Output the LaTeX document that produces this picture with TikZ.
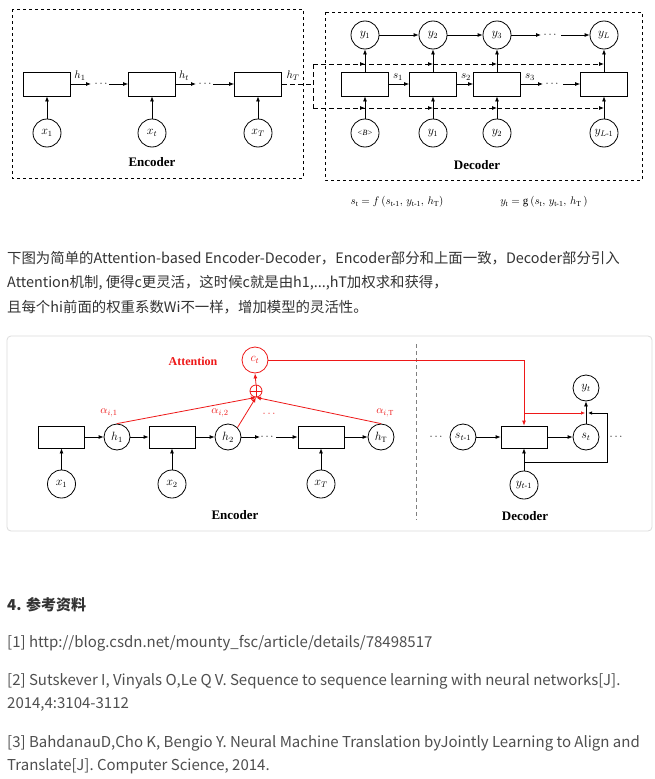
\documentclass[tikz,border=0pt]{standalone}
\usepackage{amsmath}
\usepackage{fontspec}
\setmainfont{Liberation Serif}
\newfontfamily\cjk{Noto Sans CJK SC}
\usetikzlibrary{arrows.meta}
\definecolor{attn}{RGB}{238,24,24}
\definecolor{txt}{RGB}{51,51,51}
\definecolor{reftxt}{RGB}{79,79,79}
\definecolor{framec}{RGB}{220,220,220}
\begin{document}
\begin{tikzpicture}[x=1pt,y=-1pt,
  blk/.style={draw,line width=0.8pt,minimum width=47,minimum height=24,inner sep=0},
  blks/.style={draw,line width=0.8pt,minimum width=46,minimum height=22,inner sep=0},
  crc/.style={draw,circle,line width=0.8pt,minimum size=28,inner sep=0,font=\fontsize{12}{14}\selectfont},
  crcs/.style={draw,circle,line width=0.8pt,minimum size=26,inner sep=0,font=\fontsize{12}{14}\selectfont},
  arr/.style={line width=0.8pt,-{Latex[length=5pt,width=4pt]}},
  lbl/.style={inner sep=0,font=\fontsize{11}{13}\selectfont},
  dotsn/.style={inner sep=0,font=\fontsize{11}{13}\selectfont},
  ttl/.style={inner sep=0,font=\fontsize{13}{15}\selectfont\bfseries},
  para/.style={anchor=west,inner sep=0,font=\cjk\fontsize{14.4}{16}\selectfont,text=txt},
  reff/.style={anchor=west,inner sep=0,font=\cjk\fontsize{15}{17}\selectfont,text=reftxt},
  dsh/.style={dashed,line width=0.8pt,dash pattern=on 5pt off 3pt},
  ]
\useasboundingbox (0,0) rectangle (654,779);
\fill[white] (0,0) rectangle (654,779);

% ---------------- top figure -----------------
\draw[dashed,line width=0.6pt] (12,9) rectangle (303,178);
\draw[dashed,line width=0.6pt] (325,12) rectangle (642,180);

% encoder
\node[blk] (e1) at (47,84) {};
\node[blk] (e2) at (152,84) {};
\node[blk] (e3) at (258,84) {};
\node[crc] (xa) at (47,133) {$x_1$};
\node[crc] (xb) at (152,133) {$x_t$};
\node[crc] (xc) at (258,133) {$x_T$};
\draw[arr] (xa) -- (e1);
\draw[arr] (xb) -- (e2);
\draw[arr] (xc) -- (e3);
\coordinate (h1e) at (91,84);
\node[dotsn] (dd1) at (102,84) {$\cdots$};
\coordinate (h1s) at (109,84);
\draw[arr] (e1.east) -- (h1e);
\draw[arr] (h1s) -- (e2.west);
\node[lbl] at (80,76) {$h_1$};
\coordinate (hte) at (196,84);
\node[dotsn] (dd2) at (206,84) {$\cdots$};
\coordinate (hts) at (213,84);
\draw[arr] (e2.east) -- (hte);
\draw[arr] (hts) -- (e3.west);
\node[lbl] at (184,76) {$h_t$};
\node[lbl] at (293,76) {$h_T$};
\coordinate (hT1) at (313,84);
\coordinate (vt) at (313,64);
\coordinate (vb) at (313,108);
\draw[dsh] (e3.east) -- (hT1);
\draw[dsh] (vt) -- (vb);

% decoder
\node[blk] (d1) at (365,84) {};
\node[blk] (d2) at (433,84) {};
\node[blk] (d3) at (497,84) {};
\node[blk] (d4) at (604,84) {};
\node[crc] (t1) at (365,35) {$y_1$};
\node[crc] (t2) at (433,35) {$y_2$};
\node[crc] (t3) at (497,35) {$y_3$};
\node[crc] (t4) at (604,35) {$y_L$};
\node[crc] (b1) at (365,133) {\fontsize{8}{9}\selectfont\itshape{<}B{>}};
\node[crc] (b2) at (433,133) {$y_1$};
\node[crc] (b3) at (497,133) {$y_2$};
\node[crc] (b4) at (604,133) {$y_{L\text{-}1}$};
\foreach \i in {1,2,3,4}{
  \draw[arr] (d\i) -- (t\i);
  \draw[arr] (b\i) -- (d\i);
}
\foreach \i in {1,2,3,4}{
  \draw[dsh,-{Latex[length=5pt,width=4pt]}] (vt) -- (vt -| d\i);
  \draw[dsh,-{Latex[length=5pt,width=4pt]}] (vb) -- (vb -| d\i);
}
\draw[arr] (t1) -- (t2);
\draw[arr] (t2) -- (t3);
\coordinate (t3e) at (541,35);
\node[dotsn] (dd3) at (551,35) {$\cdots$};
\coordinate (t4s) at (561,35);
\draw[arr] (t3) -- (t3e);
\draw[arr] (t4s) -- (t4);
\draw[arr] (d1) -- (d2);
\draw[arr] (d2) -- (d3);
\coordinate (s3e) at (543,84);
\node[dotsn] (dd4) at (553,84) {$\cdots$};
\coordinate (s4s) at (563,84);
\draw[arr] (d3) -- (s3e);
\draw[arr] (s4s) -- (d4);
\node[lbl] at (398,77) {$s_1$};
\node[lbl] at (466,77) {$s_2$};
\node[lbl] at (530,77) {$s_3$};

\node[ttl] at (152,162) {Encoder};
\node[ttl] at (477,165) {Decoder};
\node[lbl] at (397,202) {$s_{\mathrm{t}} = f\,(s_{\mathrm{t\text{-}1}},\, y_{\mathrm{t\text{-}1}},\, h_{\mathrm{T}})$};
\node[lbl] at (544,202) {$y_{\mathrm{t}} = \mathrm{g}\,(s_{\mathrm{t}},\, y_{\mathrm{t\text{-}1}},\, h_{\mathrm{T}}\,)$};

% ---------------- paragraph -----------------
\node[para] at (7,258) {下图为简单的Attention-based Encoder-Decoder，Encoder部分和上面一致，Decoder部分引入};
\node[para] at (7,283) {Attention机制, 便得c更灵活，这时候c就是由h1,...,hT加权求和获得，};
\node[para] at (7,307) {且每个hi前面的权重系数Wi不一样，增加模型的灵活性。};

% ---------------- second figure -----------------
\draw[framec,line width=0.8pt,rounded corners=4] (7,336) rectangle (652,531);

\node[blks] (a1) at (61.5,437) {};
\node[blks] (a2) at (172,437) {};
\node[blks] (a3) at (321,437) {};
\node[crcs] (h1) at (117,437) {$h_1$};
\node[crcs] (h2) at (228,437) {$h_2$};
\node[crcs] (hT) at (381,437) {$h_{\mathrm{T}}$};
\node[crc] (x1) at (61.5,484) {$x_1$};
\node[crc] (x2) at (172,484) {$x_2$};
\node[crc] (xT) at (321,484) {$x_T$};
\draw[arr] (x1) -- (a1);
\draw[arr] (x2) -- (a2);
\draw[arr] (xT) -- (a3);
\draw[arr] (a1) -- (h1);
\draw[arr] (h1) -- (a2);
\draw[arr] (a2) -- (h2);
\coordinate (h2e) at (260,437);
\node[dotsn] (dd5) at (268,437) {$\cdots$};
\coordinate (a3s) at (276,437);
\draw[arr] (h2) -- (h2e);
\draw[arr] (a3s) -- (a3);
\draw[arr] (a3) -- (hT);

% attention
\node[crcs,draw=attn,text=attn] (ct) at (255,360) {$c_t$};
\node[circle,draw=attn,line width=0.8pt,minimum size=12,inner sep=0] (op) at (256,391) {};
\draw[attn,line width=0.8pt] (op.north) -- (op.south) (op.west) -- (op.east);
\draw[attn,arr] (op.north) -- (ct.south);
\draw[attn,arr] (h1.north) -- (op.south);
\draw[attn,arr] (h2.north east) -- (op.south);
\draw[attn,arr] (hT.north) -- (op.south);
\node[ttl,text=attn,font=\fontsize{12}{14}\selectfont\bfseries] at (193,361) {Attention};
\node[lbl,text=attn,font=\fontsize{11}{12}\selectfont] at (109,413) {$\alpha_{i,1}$};
\node[lbl,text=attn,font=\fontsize{11}{12}\selectfont] at (220,413) {$\alpha_{i,2}$};
\node[lbl,text=attn,font=\fontsize{11}{12}\selectfont] at (385,413) {$\alpha_{i,\mathrm{T}}$};
\node[dotsn,text=attn] at (270,414) {$\cdots$};

% separator
\draw[dashed,gray,line width=1pt,dash pattern=on 4pt off 3pt] (416,344) -- (416,520);

% decoder part
\node[dotsn] (dd6) at (437,437) {$\cdots$};
\node[crcs] (sp) at (463,437) {$s_{t\text{-}1}$};
\node[blks] (db) at (524,437) {};
\node[crcs] (si) at (586,437) {$s_t$};
\node[crcs] (yt) at (586,388) {$y_t$};
\node[crc] (yp) at (524,485) {$y_{t\text{-}1}$};
\node[dotsn] (dd7) at (617,437) {$\cdots$};
\draw[arr] (sp) -- (db);
\draw[arr] (db) -- (si);
\draw[arr] (si) -- (yt);
\draw[arr] (yp) -- (db);
\draw[attn,arr] (ct.east) -| (db.north);
\coordinate (rj) at (524,413);
\coordinate (rje) at (585,413);
\draw[attn,line width=0.6pt,-{Latex[length=4pt,width=3.5pt]}] (rj) -- (rje);
\coordinate (fb0) at (524,462);
\coordinate (fb1) at (607,462);
\coordinate (fb2) at (607,413);
\coordinate (fb3) at (588,413);
\draw[line width=0.8pt,-{Latex[length=4pt,width=3.5pt]}] (fb0) -- (fb1) -- (fb2) -- (fb3);

\node[ttl] at (235,515) {Encoder};
\node[ttl] at (525,516) {Decoder};

% ---------------- references -----------------
\node[reff,text=txt,font=\cjk\fontsize{15}{17}\selectfont\bfseries] at (7,605) {4. 参考资料};
\node[reff] at (7,643) {[1] http://blog.csdn.net/mounty\_fsc/article/details/78498517};
\node[reff] at (7,681) {[2] Sutskever I, Vinyals O,Le Q V. Sequence to sequence learning with neural networks[J].};
\node[reff] at (7,704) {2014,4:3104-3112};
\node[reff] at (7,743) {[3] BahdanauD,Cho K, Bengio Y. Neural Machine Translation byJointly Learning to Align and};
\node[reff] at (7,766) {Translate[J]. Computer Science, 2014.};
\end{tikzpicture}
\end{document}
